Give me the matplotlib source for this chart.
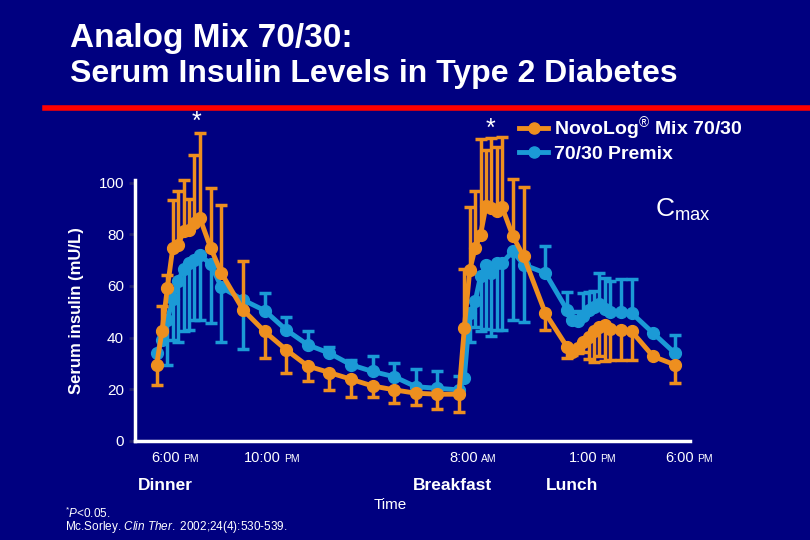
import numpy as np
import matplotlib
matplotlib.use('Agg')
import matplotlib.pyplot as plt
from matplotlib.lines import Line2D

plt.rcParams['font.family'] = ['Liberation Sans', 'DejaVu Sans']
plt.rcParams['mathtext.fontset'] = 'custom'
plt.rcParams['mathtext.rm'] = 'Liberation Sans'
plt.rcParams['mathtext.it'] = 'Liberation Sans:italic'
plt.rcParams['mathtext.bf'] = 'Liberation Sans:bold'

# hours after the 6:00 PM dinner dose
hours = [0, .25, .5, .75, 1, 1.25, 1.5, 1.75, 2, 2.5, 3, 4, 5, 6, 7, 8, 9, 10, 11, 12, 13, 14,
         14.25, 14.5, 14.75, 15, 15.25, 15.5, 15.75, 16, 16.5, 17, 18,
         19, 19.25, 19.5, 19.75, 20, 20.25, 20.5, 20.75, 21, 21.5, 22, 23, 24]

novolog = [29.5, 42.4, 59.3, 74.8, 76, 81.1, 81.8, 84.5, 86.4, 74.8, 65, 50.8, 42.4, 35.3, 29, 26.5,
           23.9, 21.3, 19.8, 18.5, 18.1, 18.1,
           43.7, 66, 74.7, 79.8, 90.8, 90.2, 88.9, 90.5, 79.2, 71.4, 49.5,
           36.5, 34.6, 35.9, 38.5, 40.4, 42.4, 44, 45, 43.5, 43, 42.4, 32.7, 29.5]
premix = [34, 39, 47, 55, 62, 66.5, 68.8, 70, 72, 68.5, 59.5, 54.6, 50.5, 43, 37.2, 34,
          29.5, 26.9, 24.9, 21, 20.4, 19.8,
          24.4, 49.5, 54, 63.7, 68.2, 65, 68.9, 69, 73.4, 68.2, 65,
          50.8, 47, 46.4, 48.2, 50.8, 52, 53, 51, 50.1, 49.8, 49.5, 41.7, 34]

# one-sided error bars: + drawn upward, - drawn downward
novolog_err = [-8, 10, 5, 18.6, 20.6, 20, 12, 26, 32.6, 23, 26.5, 19, -10.4, -9, -5.6, -6.7,
               -6.7, -4.3, -5, -4.5, -5.7, -6.7,
               23, 24.5, 22, 37, 22, 27, 25, 27, 22, 27, -6.5,
               -4.5, -1.5, -2, -4, -8.5, -12, -11, -14, -12, -11.5, -11, 0, -7]
premix_err = [0, 0, -17.5, -16, -23.5, -24, -26, -23, -25, -23, -21, -19, 6.7, 4.9, 5.5, 2.3,
              1.9, 6.1, 5.4, 6.8, 6.5, 5.4,
              0, -11, -10, -21, -25, -24.5, -26, -26, -26.5, -22, 10.3,
              7, 3, 4, 9, 7, 6, 12, 12, 12, 13, 13, 0, 7]

series_names = ['NovoLog$^{\u00ae}$ Mix 70/30', '70/30 Premix']
time_labels = [('6:00', 'PM'), ('10:00', 'PM'), ('8:00', 'AM'), ('1:00', 'PM'), ('6:00', 'PM')]
meal_labels = ['Dinner', 'Breakfast', 'Lunch']

bg = '#000080'
orange = '#EE8F1F'
blue = '#1B9AD6'

fig = plt.figure(figsize=(8.1, 5.4), dpi=100, facecolor=bg)
ax = fig.add_axes([135/810, 1-441/540, 555/810, 261/540], facecolor=bg)


def draw(vals, errs, color, z):
    x = np.array(hours)
    v = np.array(vals)
    e = np.array(errs)
    m = e != 0
    lo = np.where(e < 0, -e, 0)[m]
    hi = np.where(e > 0, e, 0)[m]
    ax.errorbar(x[m], v[m], yerr=[lo, hi], fmt='none', ecolor=color, elinewidth=2.5,
                capsize=4, capthick=2.5, clip_on=False, zorder=z)
    ax.plot(x, v, color=color, lw=3.5, marker='o', ms=8.5, clip_on=False, zorder=z + 1)


draw(premix, premix_err, blue, 2)
draw(novolog, novolog_err, orange, 4)

ax.set_xlim(-1.0, 24.7)
ax.set_ylim(0, 101)
ax.set_yticks([0, 20, 40, 60, 80, 100])
ax.set_xticks([])
ax.tick_params(axis='y', colors='#202070', length=4, width=2, labelcolor='white', labelsize=11, pad=4)
for s in ['top', 'right']:
    ax.spines[s].set_visible(False)
for s in ['left', 'bottom']:
    ax.spines[s].set_color('white')
    ax.spines[s].set_linewidth(2.5)

ax.set_ylabel('Serum insulin (mU/L)', color='white', fontsize=12, fontweight='bold', labelpad=10)

# time labels with small AM/PM
for (big, small), px in zip(time_labels, [180, 281, 478, 597, 694]):
    fig.text(px/810, 1-458/540, big, color='white', fontsize=10.5, ha='right', va='center')
    fig.text((px+3)/810, 1-459/540, small, color='white', fontsize=7.5, ha='left', va='center')

for lab, px in zip(meal_labels, [165, 452, 572]):
    fig.text(px/810, 1-485/540, lab, color='white', fontsize=12.5, fontweight='bold', ha='center', va='center')
fig.text(390/810, 1-505/540, 'Time', color='white', fontsize=11, ha='center', va='center')

# title and red rule
fig.text(70/810, 1-39/540, 'Analog Mix 70/30:', color='white', fontsize=24, fontweight='bold', va='center')
fig.text(70/810, 1-74/540, 'Serum Insulin Levels in Type 2 Diabetes', color='white', fontsize=23,
         fontweight='bold', va='center')
fig.add_artist(Line2D([45/810, 1], [1-108/540, 1-108/540], color='#FF0000', lw=4))

fig.text(196/810, 1-122/540, '*', color='white', fontsize=18, ha='center', va='center')
fig.text(490/810, 1-129/540, '*', color='white', fontsize=18, ha='center', va='center')
fig.text(655/810, 1-210/540, r'C$_{\mathrm{max}}$', color='white', fontsize=19, va='center')

handles = [Line2D([], [], color=orange, lw=3.5, marker='o', ms=8),
           Line2D([], [], color=blue, lw=3.5, marker='o', ms=8)]
leg = fig.legend(handles, series_names, loc='upper left', bbox_to_anchor=(519/810, 1-115/540),
                 frameon=False, handlelength=1.5, handletextpad=0.3, labelspacing=0.12,
                 prop={'size': 14, 'weight': 'bold'}, borderaxespad=0, borderpad=0)
for t in leg.get_texts():
    t.set_color('white')

fig.text(65/810, 1-513/540, r'$^{*}\mathit{P}$<0.05.', color='white', fontsize=8.5, va='center')
fig.text(65/810, 1-527/540, r'Mc.Sorley. $\mathit{Clin\ Ther.}$ 2002;24(4):530-539.', color='white',
         fontsize=8.5, va='center')

fig.savefig('out.png', dpi=100, facecolor=bg)
